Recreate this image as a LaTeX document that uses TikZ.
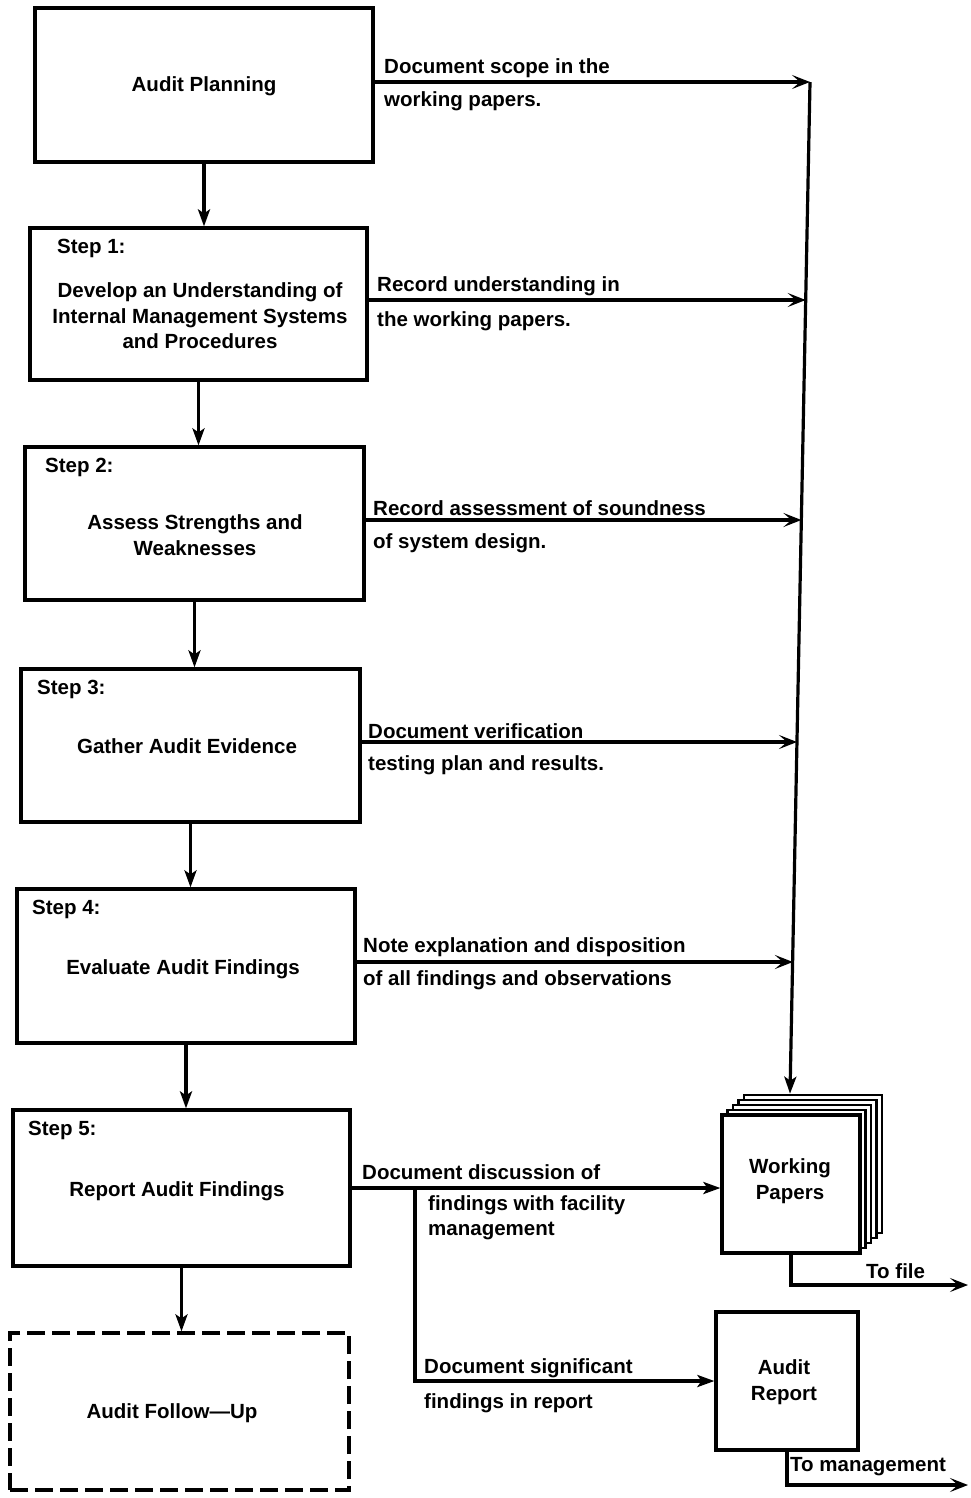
\documentclass[tikz,border=0pt]{standalone}
\usepackage{fontspec}
\setmainfont{Liberation Sans}
\usetikzlibrary{arrows.meta,calc}
\tikzset{
  box/.style={draw,line width=3.2pt,fill=white,inner sep=0pt},
  sheet/.style={draw,line width=2.6pt,fill=white,inner sep=0pt,minimum width=138pt,minimum height=138pt},
  arr/.style={line width=3.2pt,-{Stealth[length=17pt,width=12pt,inset=4pt]}},
  harr/.style={line width=3.2pt,-{Stealth[length=18pt,width=14pt,inset=8pt]}},
  lbl/.style={anchor=west,inner sep=0pt,font=\bfseries\fontsize{20.5}{22}\selectfont},
  ctr/.style={align=center,inner sep=0pt,font=\bfseries\fontsize{20.5}{25.5}\selectfont},
}
\begin{document}
\begin{tikzpicture}[x=1pt,y=-1pt]
\useasboundingbox (0,0) rectangle (970,1498);
% main boxes
\node[box,minimum width=338pt,minimum height=154pt] (plan) at (204,85) {};
\node[box,minimum width=337pt,minimum height=152pt] (s1) at (198.5,304) {};
\node[box,minimum width=339pt,minimum height=153pt] (s2) at (194.5,523.5) {};
\node[box,minimum width=339pt,minimum height=153pt] (s3) at (190.5,745.5) {};
\node[box,minimum width=338pt,minimum height=154pt] (s4) at (186,966) {};
\node[box,minimum width=337pt,minimum height=156pt] (s5) at (181.5,1188) {};
\node[box,dash pattern=on 18pt off 7pt,minimum width=339pt,minimum height=157pt] (fu) at (179.5,1411.5) {};
% texts in boxes
\node[ctr] (tplan) at (204,86) {Audit Planning};
\node[lbl] (st1) at (57,248) {Step 1:};
\node[ctr] (t1) at (200,316) {Develop an Understanding of\\Internal Management Systems\\and Procedures};
\node[lbl] (st2) at (45,467) {Step 2:};
\node[ctr] (t2) at (195,535) {Assess Strengths and\\Weaknesses};
\node[lbl] (st3) at (37,689) {Step 3:};
\node[ctr] (t3) at (187,746) {Gather Audit Evidence};
\node[lbl] (st4) at (32,909) {Step 4:};
\node[ctr] (t4) at (183,969) {Evaluate Audit Findings};
\node[lbl] (st5) at (28,1130) {Step 5:};
\node[ctr] (t5) at (177,1191) {Report Audit Findings};
\node[ctr] (tfu) at (172,1413) {Audit Follow---Up};
% vertical arrows
\draw[arr] (plan.south) -- (plan.south |- s1.north);
\draw[arr] (s1.south) -- (s1.south |- s2.north);
\draw[arr] (s2.south) -- (s2.south |- s3.north);
\draw[arr] (s3.south) -- (s3.south |- s4.north);
\draw[arr] (s4.south) -- (s4.south |- s5.north);
\draw[arr] (s5.south) -- (s5.south |- fu.north);
% working papers stack
\node[sheet] (wp4) at (813,1164) {};
\node[sheet] (wp3) at (807.5,1169) {};
\node[sheet] (wp2) at (802,1174) {};
\node[sheet] (wp1) at (796.5,1179) {};
\node[sheet,line width=3.2pt] (wp0) at (791,1184) {};
\node[ctr] (twp) at (790,1181) {Working\\Papers};
% audit report
\node[box,minimum width=142pt,minimum height=138pt] (rep) at (787,1381) {};
\node[ctr] (trep) at (784,1382) {Audit\\Report};
% right collector line
\coordinate (r0) at (810,82);
\coordinate (r1) at (805.7,300);
\coordinate (r2) at (801.4,520);
\coordinate (r3) at (797,742);
\coordinate (r4) at (792.9,962);
\coordinate (rb) at (790,0);
\draw[arr] (r0) -- (rb |- wp4.north);
\draw[harr] (plan.east |- r0) -- (r0);
\draw[harr] (s1.east |- r1) -- (r1);
\draw[harr] (s2.east |- r2) -- (r2);
\draw[harr] (s3.east |- r3) -- (r3);
\draw[harr] (s4.east |- r4) -- (r4);
% step 5 outputs
\draw[arr] (s5.east) -- (s5.east -| wp0.west);
\coordinate (bj) at (415,1188);
\draw[arr] (bj) |- (rep.west);
\coordinate (tf) at (968,1285);
\coordinate (tm) at (968,1485);
\draw[harr] (wp0.south) |- (tf);
\draw[harr] (rep.south) |- (tm);
% labels
\node[lbl] (l0a) at (384,68) {Document scope in the};
\node[lbl] (l0b) at (384,101) {working papers.};
\node[lbl] (l1a) at (377,286) {Record understanding in};
\node[lbl] (l1b) at (377,321) {the working papers.};
\node[lbl] (l2a) at (373,508) {Record assessment of soundness};
\node[lbl] (l2b) at (373,543) {of system design.};
\node[lbl] (l3a) at (368,731) {Document verification};
\node[lbl] (l3b) at (368,765) {testing plan and results.};
\node[lbl] (l4a) at (363,947) {Note explanation and disposition};
\node[lbl] (l4b) at (363,980) {of all findings and observations};
\node[lbl] (l5a) at (362,1172) {Document discussion of};
\node[lbl] (l5b) at (428,1205) {findings with facility};
\node[lbl] (l5c) at (428,1231) {management};
\node[lbl] (l6a) at (424,1368) {Document significant};
\node[lbl] (l6b) at (424,1403) {findings in report};
\node[lbl] (ltf) at (866,1271) {To file};
\node[lbl] (ltm) at (790,1467) {To management};
\end{tikzpicture}
\end{document}
